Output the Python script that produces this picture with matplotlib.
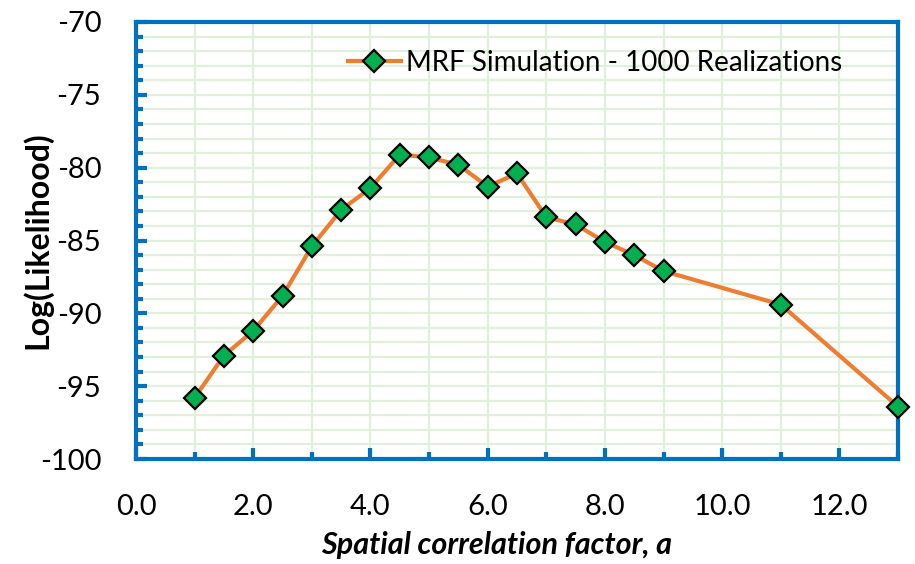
import matplotlib
matplotlib.use("Agg")
import matplotlib.pyplot as plt
from matplotlib.ticker import MultipleLocator, FormatStrFormatter

plt.rcParams['font.family'] = ['Lato', 'DejaVu Sans']

a_values = [1, 1.5, 2, 2.5, 3, 3.5, 4, 4.5, 5, 5.5, 6, 6.5, 7, 7.5, 8, 8.5, 9, 11, 13]
log_likelihood = [-95.8, -92.9, -91.2, -88.8, -85.4, -82.9, -81.4, -79.1, -79.3, -79.8,
                  -81.3, -80.4, -83.4, -83.9, -85.1, -86.0, -87.1, -89.4, -96.4]
series_label = "MRF Simulation - 1000 Realizations"
x_label = "Spatial correlation factor, a"
y_label = "Log(Likelihood)"

blue = '#0070C0'
fig = plt.figure(figsize=(9.15, 5.64), dpi=100)
ax = fig.add_axes([136/915, 1 - 459/564, (898-136)/915, (459-22)/564])

ax.plot(a_values, log_likelihood, color='#ED7D31', lw=3.0, marker='D', markersize=11.5,
        markerfacecolor='#00B050', markeredgecolor='black', markeredgewidth=1.6,
        label=series_label, zorder=3, clip_on=False)

ax.set_xlim(0, 13)
ax.set_ylim(-100, -70)
ax.xaxis.set_major_locator(MultipleLocator(2))
ax.xaxis.set_minor_locator(MultipleLocator(1))
ax.yaxis.set_major_locator(MultipleLocator(5))
ax.yaxis.set_minor_locator(MultipleLocator(1))
ax.xaxis.set_major_formatter(FormatStrFormatter('%.1f'))
ax.yaxis.set_major_formatter(FormatStrFormatter('%d'))

ax.grid(which='both', color='#E2EFDA', lw=1.6, zorder=0)
ax.set_axisbelow(True)

for s in ax.spines.values():
    s.set_color(blue)
    s.set_linewidth(3)

ax.tick_params(which='both', direction='in', color=blue, width=3, labelsize=21,
               top=False, right=False)
ax.tick_params(axis='x', which='both', pad=25)
ax.tick_params(axis='y', which='both', pad=25)
ax.tick_params(which='major', length=8)
ax.tick_params(which='minor', length=5)

fig.text(497/915, 1 - 545/564, x_label, fontsize=22, fontweight='bold', fontstyle='italic',
         ha='center', va='center')
fig.text(37/915, 1 - 240/564, y_label, fontsize=23, fontweight='bold', rotation=90,
         ha='center', va='center')

leg = ax.legend(loc='center left', bbox_to_anchor=((348-136)/762, 1 - (63-22)/437),
                frameon=False, fontsize=20, handlelength=1.9, handletextpad=0.2,
                borderpad=0, borderaxespad=0)

fig.savefig('out.png', dpi=100)
